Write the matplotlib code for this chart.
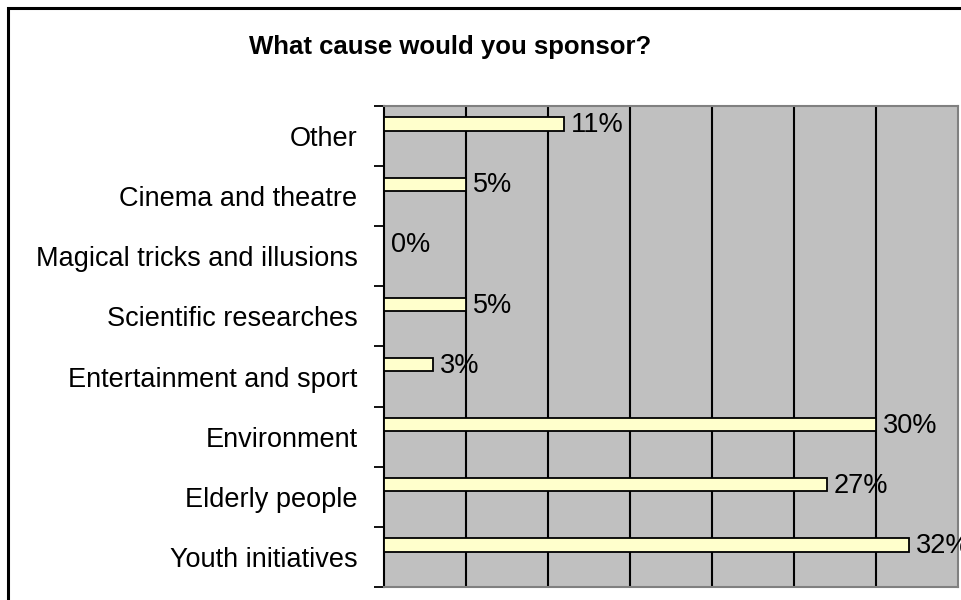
import matplotlib.pyplot as plt
from matplotlib.patches import Rectangle

causes = ['Youth initiatives', 'Elderly people', 'Environment',
          'Entertainment and sport', 'Scientific researches',
          'Magical tricks and illusions', 'Cinema and theatre', 'Other']
shares = [32, 27, 30, 3, 5, 0, 5, 11]
x_ticks = [0, 5, 10, 15, 20, 25, 30, 35]

plt.rcParams['font.family'] = ['Liberation Sans', 'DejaVu Sans']

fig = plt.figure(figsize=(9.62, 6), dpi=100)
ax = fig.add_axes([0.399, 0.0217, 0.597, 0.8017])
ax.set_facecolor('#c0c0c0')

# chart frame, open on the right and bottom edges
fig.patches.append(Rectangle((0.0085, -0.05), 1.2, 1.037, transform=fig.transFigure,
                             fill=False, edgecolor='black', linewidth=2.2, zorder=0))

pos = [i + 0.2 for i in range(len(causes))]
ax.barh(pos, shares, height=0.22, color='#ffffcc', edgecolor='black',
        linewidth=1.3, zorder=3)
for p, v in zip(pos, shares):
    ax.text(v + 0.42, p - 0.02, f'{v}%', va='center', ha='left', fontsize=19.5,
            zorder=4, clip_on=False)

ax.set_xlim(0, 35)
ax.set_ylim(-0.5, len(causes) - 0.5)
for t in x_ticks[1:-1]:
    ax.axvline(t, color='black', linewidth=1.5, zorder=1)

ax.set_xticks([])
ax.set_yticks(range(len(causes)))
ax.set_yticklabels(causes, fontsize=19.5)
ax.set_yticks([i - 0.5 for i in range(len(causes) + 1)], minor=True)
ax.tick_params(axis='y', which='major', length=0, pad=19)
ax.tick_params(axis='y', which='minor', length=7, width=1.3, color='black')

for side in ['top', 'right', 'bottom']:
    ax.spines[side].set_color('#808080')
    ax.spines[side].set_linewidth(1.5)
ax.spines['left'].set_color('black')
ax.spines['left'].set_linewidth(1.5)

fig.text(0.468, 0.921, 'What cause would you sponsor?', ha='center', va='center',
         fontsize=18.5, fontweight='bold')

fig.savefig('out.png', dpi=100)
